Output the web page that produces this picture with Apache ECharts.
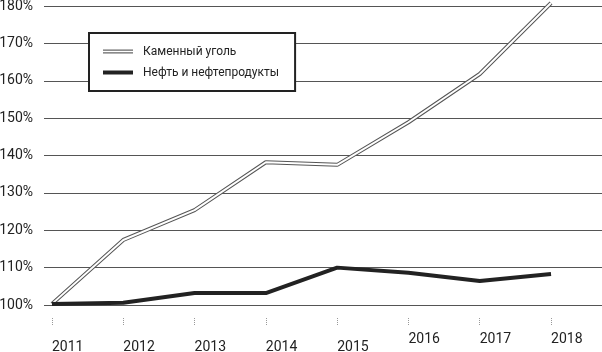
<!DOCTYPE html>
<html>
<head>
<meta charset="utf-8">
<script src="https://cdn.jsdelivr.net/npm/echarts@6/dist/echarts.min.js"></script>
<style>
  html, body { margin: 0; padding: 0; background: #fff; }
  #chart { width: 602px; height: 352px; }
</style>
</head>
<body>
<div id="chart"></div>
<script>
const years = [2011, 2012, 2013, 2014, 2015, 2016, 2017, 2018]
const raisedYears = [2016, 2017, 2018]
const coal = [100.3, 117.4, 125.4, 138.2, 137.5, 148.9, 161.8, 180.8]
const oil = [100.3, 100.6, 103.2, 103.2, 110.0, 108.6, 106.4, 108.3]
const coalName = 'Каменный уголь'
const oilName = 'Нефть и нефтепродукты'

const axisFont = 'Roboto, "Liberation Sans", sans-serif'

const pairs = values => years.map((y, i) => [y, values[i]])

const chart = echarts.init(document.getElementById('chart'))
chart.setOption({
  animation: false,
  grid: { left: 44, right: 0, top: 6, bottom: 47, outerBoundsMode: 'none' },
  legend: {
    left: 89,
    top: 33,
    orient: 'vertical',
    backgroundColor: '#fff',
    borderColor: '#222',
    borderWidth: 2,
    borderRadius: 0,
    padding: [11, 16, 11, 14],
    itemGap: 6,
    itemWidth: 30,
    itemHeight: 4,
    selectedMode: false,
    textStyle: {
      fontFamily: axisFont,
      fontSize: 12,
      color: '#222',
      lineHeight: 15,
      padding: [0, 0, 0, 5],
    },
    data: [
      { name: coalName, icon: 'path://M0,0H30V1.3H0ZM0,2.7H30V4H0Z', itemStyle: { color: '#666' } },
      { name: oilName, icon: 'rect', itemStyle: { color: '#222' } },
    ],
  },
  xAxis: {
    type: 'value',
    min: 2010.888,
    max: 2018.715,
    offset: 13,
    splitLine: { show: false },
    axisLine: { show: false },
    axisTick: {
      show: true,
      customValues: years,
      length: 8,
      lineStyle: { color: '#999', type: 'dotted', width: 1 },
    },
    axisLabel: {
      customValues: years,
      align: 'left',
      margin: 14,
      color: '#222',
      fontFamily: axisFont,
      fontSize: 14,
      formatter: v => raisedYears.includes(v) ? `{hi|${v}}` : `{lo|${v}}`,
      rich: {
        hi: { fontFamily: axisFont, fontSize: 14, color: '#222' },
        lo: { fontFamily: axisFont, fontSize: 14, color: '#222', padding: [8, 0, 0, 0] },
      },
    },
  },
  yAxis: {
    type: 'value',
    min: 100,
    max: 180,
    interval: 10,
    axisLine: { show: false },
    axisTick: { show: false },
    splitLine: { lineStyle: { color: '#555', width: 1 } },
    axisLabel: {
      margin: 11,
      color: '#222',
      fontFamily: axisFont,
      fontSize: 14,
      formatter: '{value}%',
    },
  },
  series: [
    {
      name: coalName,
      type: 'line',
      data: pairs(coal),
      symbol: 'none',
      clip: false,
      lineStyle: { color: '#555', width: 4 },
      itemStyle: { color: '#555' },
    },
    {
      name: 'coal-inner',
      type: 'line',
      data: pairs(coal),
      symbol: 'none',
      clip: false,
      lineStyle: { color: '#fff', width: 2 },
    },
    {
      name: oilName,
      type: 'line',
      data: pairs(oil),
      symbol: 'none',
      lineStyle: { color: '#222', width: 4 },
      itemStyle: { color: '#222' },
    },
  ],
})
</script>
</body>
</html>
